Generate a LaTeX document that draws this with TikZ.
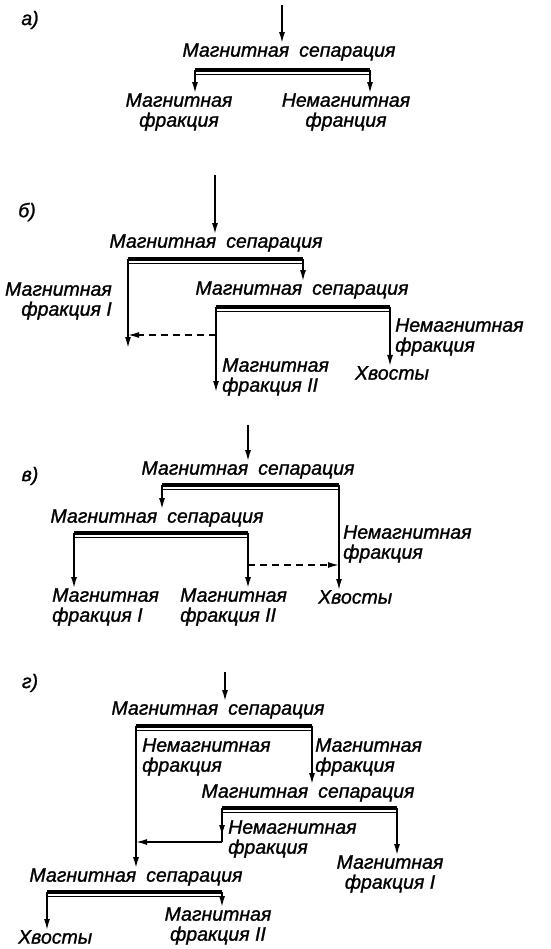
\documentclass[tikz,border=0pt]{standalone}
\usepackage{fontspec}
\setmainfont[ItalicFeatures={FakeBold=1.2}]{Liberation Sans}
\usetikzlibrary{arrows.meta}
\tikzset{
  lbl/.style={font=\fontsize{19.5}{20}\selectfont\itshape, inner sep=0pt},
  lblL/.style={lbl, align=left},
  lblC/.style={lbl, align=center},
  lblR/.style={lbl, align=right},
  conn/.style={line width=1.5pt, -{Latex[length=11pt,width=6pt]}},
  plain/.style={line width=1.5pt},
  dconn/.style={conn, dash pattern=on 7pt off 5pt},
  barthick/.style={line width=3.2pt},
  barthin/.style={line width=0.9pt}
}
\newcommand{\splitbar}[2]{%
  \draw[barthick] (#1) -- (#2);
  \draw[barthin] ([yshift=-4.5pt]#1) -- ([yshift=-4.5pt]#2);}
\newcommand{\msep}{Магнитная\hspace{10pt}сепарация}
\begin{document}
\begin{tikzpicture}[x=1pt,y=-1pt]
\useasboundingbox (0,0) rectangle (550,949);
% ---------- a
\node[lbl] (la) at (30,20) {а)};
\coordinate (a0) at (282,5);
\node[lbl] (a1) at (289,52) {\msep};
\coordinate (a1l) at (195,70); \coordinate (a1r) at (370,70);
\node[lblC] (a2) at (179,112) {Магнитная\\фракция};
\node[lblC] (a3) at (346,112) {Немагнитная\\франция};
\draw[conn] (a0) -- (a0 |- a1.north);
\splitbar{a1l}{a1r}
\draw[conn] (a1l) -- (a1l |- a2.north);
\draw[conn] (a1r) -- (a1r |- a3.north);
% ---------- b
\node[lbl] (lb) at (27,212) {б)};
\coordinate (b0) at (215,175);
\node[lbl] (b1) at (216,243) {\msep};
\coordinate (b1l) at (128,259); \coordinate (b1r) at (303,259);
\node[lbl] (b2) at (302,290) {\msep};
\coordinate (b2l) at (216,307); \coordinate (b2r) at (390,307);
\node[lblR, anchor=east] (bM1) at (112,301) {Магнитная\\фракция I};
\node[lblL, anchor=west] (bN) at (395,337) {Немагнитная\\фракция};
\node[lbl] (bX) at (392,373) {Хвосты};
\node[lblL, anchor=west] (bM2) at (222,377) {Магнитная\\фракция II};
\coordinate (b1end) at (128,348);
\coordinate (bd) at (216,335);
\draw[conn] (b0) -- (b0 |- b1.north);
\splitbar{b1l}{b1r}
\draw[conn] (b1r) -- (b1r |- b2.north);
\splitbar{b2l}{b2r}
\draw[conn] (b1l) -- (b1end);
\draw[dconn] (bd) -- (bd -| b1l);
\draw[conn] (b2l) -- (216,392);
\draw[conn] (b2r) -- (b2r |- bX.north);
% ---------- c
\node[lbl] (lc) at (30,476) {в)};
\coordinate (c0) at (248,425);
\node[lbl] (c1) at (248,470) {\msep};
\coordinate (c1l) at (162,485); \coordinate (c1r) at (339,485);
\node[lbl] (c2) at (157,518) {\msep};
\coordinate (c2l) at (74,533); \coordinate (c2r) at (248,533);
\node[lblL, anchor=west] (cN) at (343,544) {Немагнитная\\фракция};
\node[lblL, anchor=west] (cM1) at (52,607) {Магнитная\\фракция I};
\node[lblL, anchor=west] (cM2) at (180,607) {Магнитная\\фракция II};
\node[lbl, anchor=west] (cX) at (318,597) {Хвосты};
\coordinate (cd) at (248,565);
\draw[conn] (c0) -- (c0 |- c1.north);
\splitbar{c1l}{c1r}
\draw[conn] (c1l) -- (c1l |- c2.north);
\splitbar{c2l}{c2r}
\draw[conn] (c2l) -- (c2l |- cM1.north);
\draw[conn] (c2r) -- (c2r |- cM2.north);
\draw[dconn] (cd) -- (cd -| c1r);
\draw[conn] (c1r) -- (c1r |- cX.north);
% ---------- d
\node[lbl] (ld) at (30,683) {г)};
\coordinate (d0) at (225,672);
\node[lbl] (d1) at (218,710) {\msep};
\coordinate (d1l) at (136,726); \coordinate (d1r) at (312,726);
\node[lblL, anchor=west] (dN1) at (142,757) {Немагнитная\\фракция};
\node[lblL, anchor=west] (dM) at (315,757) {Магнитная\\фракция};
\node[lbl] (d2) at (308,793) {\msep};
\coordinate (d2l) at (222,808); \coordinate (d2r) at (397,808);
\node[lblL, anchor=west] (dN2) at (228,839) {Немагнитная\\фракция};
\node[lblC] (dM1) at (390,874) {Магнитная\\фракция I};
\node[lbl] (d3) at (136,877) {\msep};
\coordinate (d3l) at (47,892); \coordinate (d3r) at (222,892);
\node[lbl, anchor=west] (dX) at (18,937) {Хвосты};
\node[lblC] (dM2) at (218,926) {Магнитная\\фракция II};
\coordinate (dj) at (222,842);
\draw[conn] (d0) -- (d0 |- d1.north);
\splitbar{d1l}{d1r}
\draw[conn] (d1l) -- (d1l |- d3.north);
\draw[conn] (d1r) -- (d1r |- d2.north);
\splitbar{d2l}{d2r}
\draw[conn] (d2l) -- (222,836);
\draw[plain] (d2l) -- (dj);
\draw[conn] (dj) -- (dj -| d1l);
\draw[conn] (d2r) -- (d2r |- dM1.north);
\splitbar{d3l}{d3r}
\draw[conn] (d3l) -- (d3l |- dX.north);
\draw[conn] (d3r) -- (d3r |- dM2.north);
\end{tikzpicture}
\end{document}
